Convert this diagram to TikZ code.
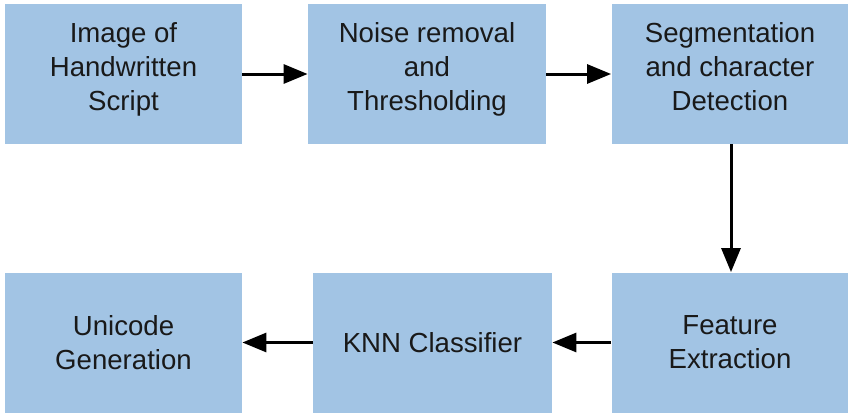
\documentclass[tikz,border=0pt]{standalone}
\usepackage{fontspec}
\setmainfont{Liberation Sans}
\definecolor{stageblue}{RGB}{162, 196, 228}
\definecolor{textdark}{RGB}{25, 25, 25}
\usetikzlibrary{arrows.meta, positioning}

\begin{document}
\begin{tikzpicture}[
        x=0.5pt, y=-0.5pt,
        stage/.style={rectangle, fill=stageblue, minimum width=118.5pt, minimum height=70pt, align=center, text=textdark, font=\fontsize{13.8}{17}\selectfont, inner sep=0pt},
        toprow/.style={stage, text height=39pt, text depth=3pt},
        flow/.style={-{Triangle[length=12pt, width=9.5pt]}, line width=1.5pt, black}
    ]
        \useasboundingbox (0,0) rectangle (848,413);

        % Top row
        \node[toprow] (image) at (123.5,74) {Image of\\Handwritten\\Script};
        \node[toprow, minimum width=119pt] (noise) at (427,74) {Noise removal\\and\\Thresholding};
        \node[toprow] (segment) at (730,74) {Segmentation\\and character\\Detection};

        % Bottom row
        \node[stage] (feature) at (730,342.5) {Feature\\Extraction};
        \node[stage, minimum width=119.5pt] (knn) at (432.5,342.5) {KNN Classifier};
        \node[stage] (unicode) at (123.5,342.5) {Unicode\\Generation};

        % Arrows
        \draw[flow] (image) -- (noise);
        \draw[flow] (noise) -- (segment);
        \draw[flow] (segment.south -| 731,0) -- (feature.north -| 731,0);
        \draw[flow] (feature) -- (knn);
        \draw[flow] (knn) -- (unicode);
\end{tikzpicture}
\end{document}
